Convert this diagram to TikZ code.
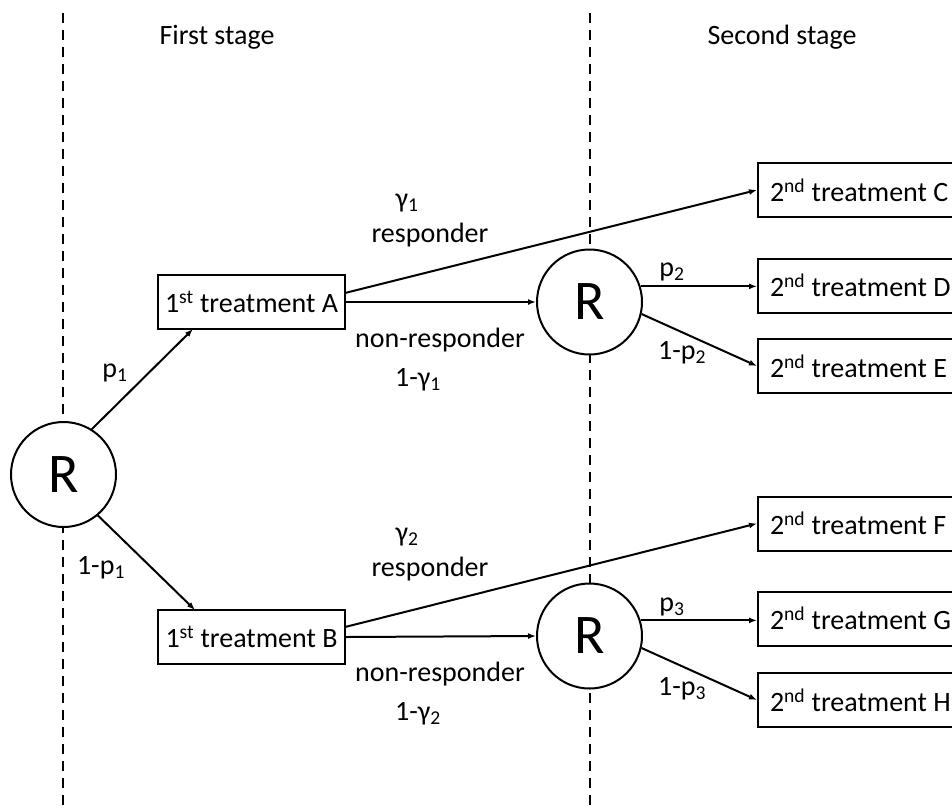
\documentclass[tikz,border=0pt]{standalone}
\usepackage{fontspec}
\setmainfont{Carlito}
\usetikzlibrary{arrows.meta,calc}
\begin{document}
\begin{tikzpicture}[x=1pt,y=-1pt,
  every node/.style={font=\fontsize{28}{33}\selectfont},
  lbl/.style={inner sep=0pt},
  abox/.style={draw, line width=2pt, minimum width=187pt, minimum height=54pt, inner sep=0pt},
  rbox/.style={draw, line width=2pt, anchor=west, minimum height=54pt, text width=190pt, align=flush left, inner xsep=12pt, inner ysep=0pt},
  rnode/.style={draw, circle, fill=white, line width=2pt, minimum size=105pt, inner sep=0pt, font=\fontsize{56}{60}\selectfont},
  arr/.style={line width=2pt, -{Latex[length=8pt,width=6pt]}},
  stageline/.style={line width=2pt, dash pattern=on 10pt off 7pt},
]
\useasboundingbox (0,0) rectangle (952,809);
\clip (0,0) rectangle (952,809);

% stage separators
\coordinate (s1t) at (63,13);
\coordinate (s1b) at (63,812);
\coordinate (s2t) at (590,13);
\coordinate (s2b) at (590,812);
\draw[stageline] (s1t) -- (s1b);
\draw[stageline] (s2t) -- (s2b);

\node[lbl] (st1) at (217,37) {First stage};
\node[lbl] (st2) at (782,37) {Second stage};

% nodes
\node[rnode] (R1) at (63.5,474.5) {R};
\node[abox] (A) at (251.5,302) {1\textsuperscript{st} treatment A};
\node[abox] (B) at (251.5,637) {1\textsuperscript{st} treatment B};
\node[rnode] (R2) at (589.5,302) {R};
\node[rnode] (R3) at (589.5,636) {R};
\node[rbox] (C) at (757,190) {2\textsuperscript{nd} treatment C};
\node[rbox] (D) at (757,285.5) {2\textsuperscript{nd} treatment D};
\node[rbox] (E) at (757,366) {2\textsuperscript{nd} treatment E};
\node[rbox] (F) at (757,523.5) {2\textsuperscript{nd} treatment F};
\node[rbox] (G) at (757,618.5) {2\textsuperscript{nd} treatment G};
\node[rbox] (H) at (757,700) {2\textsuperscript{nd} treatment H};

% connectors
\coordinate (Ain) at (193,329);
\coordinate (Bin) at (195,610);
\coordinate (Aout) at (345,293);
\coordinate (Bout) at (345,627);
\draw[arr] (R1.58) -- (Ain);
\draw[arr] (R1.-50) -- (Bin);
\draw[arr] (A.east) -- (R2.west);
\draw[arr] (B.east) -- (R3.west);
\draw[arr] (Aout) -- (C.west);
\draw[arr] (Bout) -- (F.west);
\draw[arr] (R2.17) -- (R2.17 -| D.west);
\draw[arr] (R2.-13) -- (E.west);
\draw[arr] (R3.17) -- (R3.17 -| G.west);
\draw[arr] (R3.-13) -- (H.west);

% labels
\node[lbl] (lp1) at (115,373) {p\textsubscript{1}};
\node[lbl] (lq1) at (101,568) {1-p\textsubscript{1}};
\node[lbl] (lg1) at (407,203) {γ\textsubscript{1}};
\node[lbl] (lr1) at (430,235) {responder};
\node[lbl] (ln1) at (440,340) {non-responder};
\node[lbl] (lh1) at (418,380) {1-γ\textsubscript{1}};
\node[lbl] (lg2) at (407,537) {γ\textsubscript{2}};
\node[lbl] (lr2) at (430,569) {responder};
\node[lbl] (ln2) at (440,674) {non-responder};
\node[lbl] (lh2) at (418,714) {1-γ\textsubscript{2}};
\node[lbl] (lp2) at (672,272) {p\textsubscript{2}};
\node[lbl] (lq2) at (682,353) {1-p\textsubscript{2}};
\node[lbl] (lp3) at (672,607) {p\textsubscript{3}};
\node[lbl] (lq3) at (682,689) {1-p\textsubscript{3}};
\end{tikzpicture}
\end{document}
